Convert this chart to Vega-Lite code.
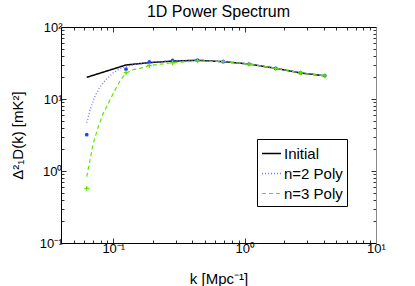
{
  "$schema": "https://vega.github.io/schema/vega-lite/v6.json",
  "width": 315,
  "height": 216,
  "autosize": {"type": "none"},
  "padding": {"left": 61, "top": 27, "right": 39, "bottom": 43},
  "background": "white",
  "title": {"text": "1D Power Spectrum", "fontSize": 16, "font": "Liberation Sans", "fontWeight": "normal", "color": "black", "offset": 1, "anchor": "middle", "frame": "group"},
  "datasets": {
    "lines": [
      {"series": "Initial", "k": 0.0628, "P": 20.0},
      {"series": "Initial", "k": 0.125, "P": 29.7},
      {"series": "Initial", "k": 0.188, "P": 32.0},
      {"series": "Initial", "k": 0.283, "P": 33.6},
      {"series": "Initial", "k": 0.438, "P": 34.5},
      {"series": "Initial", "k": 0.687, "P": 33.0},
      {"series": "Initial", "k": 1.08, "P": 30.6},
      {"series": "Initial", "k": 1.72, "P": 26.7},
      {"series": "Initial", "k": 2.67, "P": 23.0},
      {"series": "Initial", "k": 4.08, "P": 21.0},
      {"series": "n=2 Poly", "k": 0.0628, "P": 4.69},
      {"series": "n=2 Poly", "k": 0.0665, "P": 7.0},
      {"series": "n=2 Poly", "k": 0.0726, "P": 11.0},
      {"series": "n=2 Poly", "k": 0.0792, "P": 14.7},
      {"series": "n=2 Poly", "k": 0.0891, "P": 19.0},
      {"series": "n=2 Poly", "k": 0.0995, "P": 23.0},
      {"series": "n=2 Poly", "k": 0.1125, "P": 26.5},
      {"series": "n=2 Poly", "k": 0.125, "P": 28.3},
      {"series": "n=2 Poly", "k": 0.146, "P": 30.1},
      {"series": "n=2 Poly", "k": 0.188, "P": 32.1},
      {"series": "n=2 Poly", "k": 0.283, "P": 34.0},
      {"series": "n=2 Poly", "k": 0.438, "P": 34.6},
      {"series": "n=2 Poly", "k": 0.687, "P": 33.0},
      {"series": "n=2 Poly", "k": 1.08, "P": 30.6},
      {"series": "n=2 Poly", "k": 1.72, "P": 26.7},
      {"series": "n=2 Poly", "k": 2.67, "P": 23.0},
      {"series": "n=2 Poly", "k": 4.08, "P": 21.0},
      {"series": "n=3 Poly", "k": 0.0628, "P": 0.834},
      {"series": "n=3 Poly", "k": 0.0665, "P": 1.42},
      {"series": "n=3 Poly", "k": 0.0705, "P": 2.43},
      {"series": "n=3 Poly", "k": 0.0769, "P": 4.12},
      {"series": "n=3 Poly", "k": 0.0839, "P": 6.33},
      {"series": "n=3 Poly", "k": 0.0944, "P": 9.69},
      {"series": "n=3 Poly", "k": 0.1062, "P": 14.8},
      {"series": "n=3 Poly", "k": 0.1159, "P": 19.4},
      {"series": "n=3 Poly", "k": 0.125, "P": 22.7},
      {"series": "n=3 Poly", "k": 0.138, "P": 25.3},
      {"series": "n=3 Poly", "k": 0.1644, "P": 27.0},
      {"series": "n=3 Poly", "k": 0.188, "P": 29.2},
      {"series": "n=3 Poly", "k": 0.283, "P": 31.9},
      {"series": "n=3 Poly", "k": 0.438, "P": 33.7},
      {"series": "n=3 Poly", "k": 0.687, "P": 33.0},
      {"series": "n=3 Poly", "k": 1.08, "P": 30.6},
      {"series": "n=3 Poly", "k": 1.72, "P": 26.7},
      {"series": "n=3 Poly", "k": 2.67, "P": 23.0},
      {"series": "n=3 Poly", "k": 4.08, "P": 21.0}
    ],
    "pts": [
      {"series": "n=2 Poly", "k": 0.0628, "P": 3.19},
      {"series": "n=2 Poly", "k": 0.125, "P": 25.9},
      {"series": "n=2 Poly", "k": 0.188, "P": 32.7},
      {"series": "n=2 Poly", "k": 0.283, "P": 34.5},
      {"series": "n=2 Poly", "k": 0.438, "P": 34.8},
      {"series": "n=2 Poly", "k": 0.687, "P": 33.0},
      {"series": "n=2 Poly", "k": 1.08, "P": 30.6},
      {"series": "n=2 Poly", "k": 1.72, "P": 26.7},
      {"series": "n=2 Poly", "k": 2.67, "P": 23.0},
      {"series": "n=2 Poly", "k": 4.08, "P": 21.1},
      {"series": "n=3 Poly", "k": 0.0628, "P": 0.575},
      {"series": "n=3 Poly", "k": 0.125, "P": 23.2},
      {"series": "n=3 Poly", "k": 0.188, "P": 29.2},
      {"series": "n=3 Poly", "k": 0.283, "P": 31.9},
      {"series": "n=3 Poly", "k": 0.438, "P": 33.8},
      {"series": "n=3 Poly", "k": 0.687, "P": 33.0},
      {"series": "n=3 Poly", "k": 1.08, "P": 30.6},
      {"series": "n=3 Poly", "k": 1.72, "P": 26.7},
      {"series": "n=3 Poly", "k": 2.67, "P": 23.0},
      {"series": "n=3 Poly", "k": 4.08, "P": 21.0}
    ]
  },
  "layer": [
    {
      "data": {"name": "lines"},
      "mark": {"type": "line", "clip": true},
      "encoding": {
        "x": {
          "field": "k", "type": "quantitative",
          "scale": {"type": "log", "domain": [0.04, 10], "nice": false},
          "axis": {
            "orient": "bottom",
            "values": [0.04, 0.05, 0.06, 0.07, 0.08, 0.09, 0.1, 0.2, 0.3, 0.4, 0.5, 0.6, 0.7, 0.8, 0.9, 1, 2, 3, 4, 5, 6, 7, 8, 9, 10],
            "labelExpr": "datum.value == 0.1 ? '10⁻¹' : datum.value == 1 ? '10⁰' : datum.value == 10 ? '10¹' : ''",
            "tickSize": {"condition": {"test": "datum.value == 0.1 || datum.value == 1 || datum.value == 10", "value": -5}, "value": -3},
            "labelPadding": 4,
            "title": "k [Mpc⁻¹]",
            "titlePadding": 14
          }
        },
        "y": {
          "field": "P", "type": "quantitative",
          "scale": {"type": "log", "domain": [0.1, 100], "nice": false},
          "axis": {
            "orient": "left",
            "values": [0.1, 0.2, 0.3, 0.4, 0.5, 0.6, 0.7, 0.8, 0.9, 1, 2, 3, 4, 5, 6, 7, 8, 9, 10, 20, 30, 40, 50, 60, 70, 80, 90, 100],
            "labelExpr": "datum.value == 0.1 ? '10⁻¹' : datum.value == 1 ? '10⁰' : datum.value == 10 ? '10¹' : datum.value == 100 ? '10²' : ''",
            "tickSize": {"condition": {"test": "datum.value == 0.1 || datum.value == 1 || datum.value == 10 || datum.value == 100", "value": -5}, "value": -3},
            "labelPadding": 4,
            "title": "Δ²₁D(k) [mK²]",
            "titlePadding": 14
          }
        },
        "color": {
          "field": "series", "type": "nominal", "title": null,
          "scale": {"domain": ["Initial", "n=2 Poly", "n=3 Poly"], "range": ["#000000", "#7878ff", "#5fe600"]},
          "legend": {"orient": "none", "legendX": 196, "legendY": 112, "symbolType": "stroke", "symbolSize": 361, "symbolStrokeWidth": 1.5, "padding": 4, "strokeColor": "black", "fillColor": "white", "labelFont": "Liberation Sans", "labelFontSize": 15, "labelColor": "black", "labelOffset": 2, "rowPadding": 1, "cornerRadius": 0}
        },
        "strokeDash": {
          "field": "series", "type": "nominal", "title": null,
          "scale": {"domain": ["Initial", "n=2 Poly", "n=3 Poly"], "range": [[1, 0], [1, 2], [4, 3]]},
          "legend": {"orient": "none", "legendX": 196, "legendY": 112, "symbolType": "stroke", "symbolSize": 361, "symbolStrokeWidth": 1.5, "padding": 4, "strokeColor": "black", "fillColor": "white", "labelFont": "Liberation Sans", "labelFontSize": 15, "labelColor": "black", "labelOffset": 2, "rowPadding": 1, "cornerRadius": 0}
        },
        "strokeWidth": {"field": "series", "type": "nominal", "legend": null, "scale": {"domain": ["Initial", "n=2 Poly", "n=3 Poly"], "range": [1.5, 1.2, 1.6]}}
      }
    },
    {
      "data": {"name": "pts"},
      "transform": [{"filter": "datum.series == 'n=2 Poly'"}],
      "mark": {"type": "point", "shape": "circle", "filled": true, "size": 14, "color": "#2842ff", "opacity": 1},
      "encoding": {
        "x": {
          "field": "k", "type": "quantitative",
          "axis": {
            "orient": "top",
            "values": [0.04, 0.05, 0.06, 0.07, 0.08, 0.09, 0.1, 0.2, 0.3, 0.4, 0.5, 0.6, 0.7, 0.8, 0.9, 1, 2, 3, 4, 5, 6, 7, 8, 9, 10],
            "labels": false,
            "tickSize": {"condition": {"test": "datum.value == 0.1 || datum.value == 1 || datum.value == 10", "value": -5}, "value": -3},
            "title": null
          }
        },
        "y": {
          "field": "P", "type": "quantitative",
          "axis": {
            "orient": "right",
            "values": [0.1, 0.2, 0.3, 0.4, 0.5, 0.6, 0.7, 0.8, 0.9, 1, 2, 3, 4, 5, 6, 7, 8, 9, 10, 20, 30, 40, 50, 60, 70, 80, 90, 100],
            "labels": false,
            "domainColor": "#888888",
            "tickSize": {"condition": {"test": "datum.value == 0.1 || datum.value == 1 || datum.value == 10 || datum.value == 100", "value": -5}, "value": -3},
            "title": null
          }
        }
      }
    },
    {
      "data": {"name": "pts"},
      "transform": [{"filter": "datum.series == 'n=3 Poly'"}],
      "mark": {"type": "point", "shape": "M-1,0L1,0M0,-1L0,1", "filled": false, "size": 22, "strokeWidth": 1.3, "color": "#5fe600", "opacity": 1},
      "encoding": {
        "x": {"field": "k", "type": "quantitative", "axis": null},
        "y": {"field": "P", "type": "quantitative", "axis": null}
      }
    }
  ],
  "resolve": {"axis": {"x": "independent", "y": "independent"}},
  "config": {
    "view": {"stroke": null},
    "axis": {
      "grid": false,
      "labelFont": "Liberation Sans",
      "labelFontSize": 13,
      "labelColor": "black",
      "titleFont": "Liberation Sans",
      "titleFontSize": 15,
      "titleFontWeight": "normal",
      "titleColor": "black",
      "domainColor": "black",
      "domainWidth": 1,
      "tickColor": "black",
      "tickWidth": 0.8,
      "labelOverlap": false,
      "labelFlush": false,
      "labelBound": false
    }
  }
}
